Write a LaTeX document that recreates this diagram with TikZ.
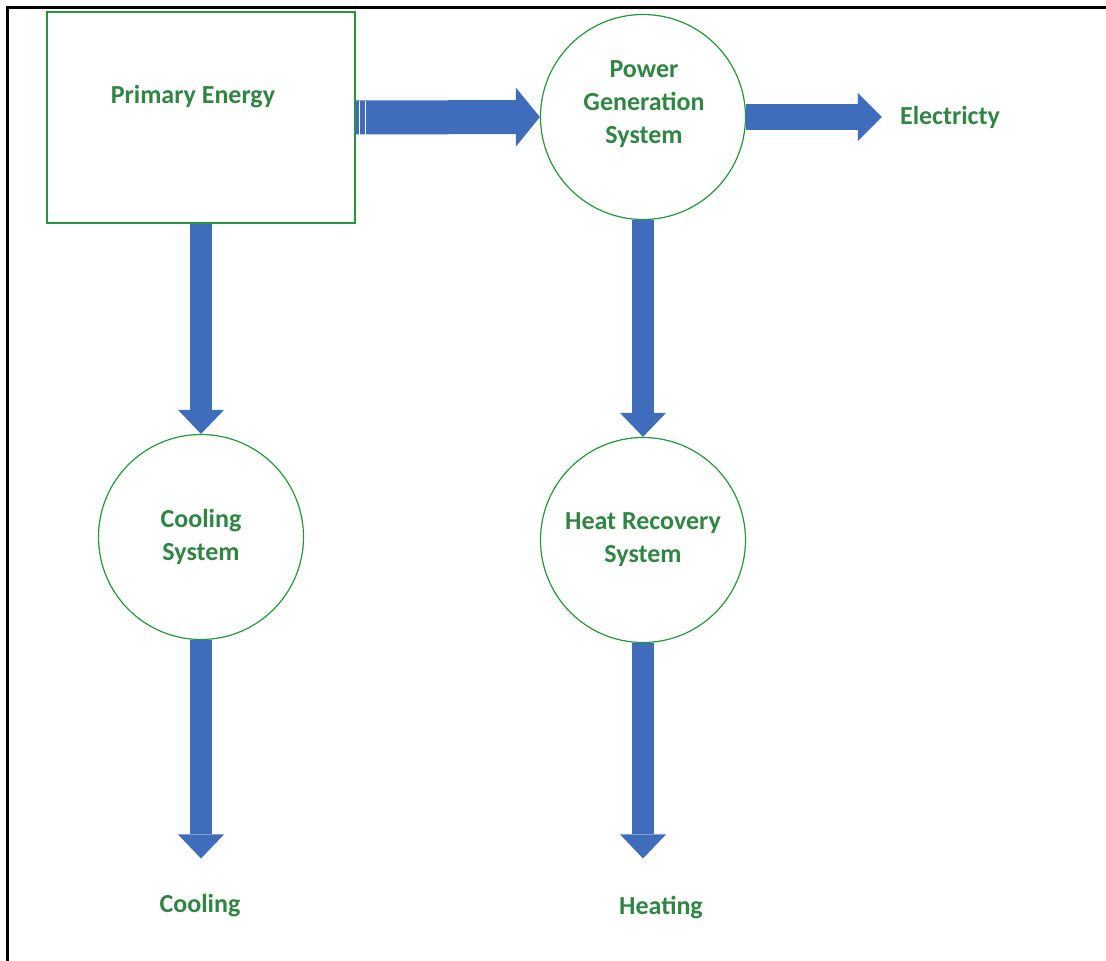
\documentclass[tikz,border=0pt]{standalone}
\usepackage{fontspec}
\setmainfont{Carlito}
\usetikzlibrary{arrows.meta, positioning, calc}
\definecolor{flowblue}{RGB}{64, 108, 188}
\definecolor{labelgreen}{RGB}{49, 133, 68}
\definecolor{edgegreen}{RGB}{38, 150, 60}
\tikzset{
	unit/.style={draw=edgegreen, line width=1.2pt, fill=white},
	box/.style={unit, rectangle, minimum width=308pt, minimum height=211pt},
	sys/.style={unit, circle, minimum size=205pt, inner sep=0pt, align=center,
		text=labelgreen, font=\bfseries\fontsize{26}{33}\selectfont},
	txt/.style={text=labelgreen, inner sep=0pt, align=center,
		font=\bfseries\fontsize{26}{33}\selectfont},
	flow/.style 2 args={draw=flowblue, line width=#1,
		-{Triangle[length=24pt, width=#2, line width=0pt]}}
}

\begin{document}
\begin{tikzpicture}[x=1pt, y=-1pt]
		\useasboundingbox (0,0) rectangle (1106,961);
		\draw[line width=3pt] (7.5,961) -- (7.5,7.5) -- (1106,7.5);
		% units
		\node[box] (primary) at (201,117.5) {};
		\node[txt] (primarytext) at (193,97) {Primary Energy};
		\node[sys] (powergen) at (643,117) {};
		\node[txt] (powertext) at (644,104.5) {Power\\Generation\\System};
		\node[sys] (cooling) at (201,537) {Cooling\\System};
		\node[sys] (heatrec) at (643,540) {Heat Recovery\\System};
		% outputs
		\node[txt] (elec) at (950,117.5) {Electricty};
		\node[txt] (coolout) at (200,906) {Cooling};
		\node[txt] (heatout) at (661,908) {Heating};
		% flows
		\draw[flow={34pt}{59pt}] (primary.east) -- (powergen.west);
		\draw[white, line width=1.5pt] ([xshift=4pt]primary.east) ++(0,-17) -- ++(0,34);
		\draw[white, line width=1.5pt] ([xshift=10pt]primary.east) ++(0,-17) -- ++(0,34);
		\draw[flow={26pt}{48pt}, shorten >=18pt] (powergen.east) -- (powergen.east -| elec.west);
		\draw[flow={22pt}{46pt}] (primary.south) -- (cooling.north);
		\draw[flow={22pt}{46pt}] (powergen.south) -- (heatrec.north);
		\draw[flow={22pt}{46pt}, shorten >=36pt] (cooling.south) -- (cooling.south |- coolout.north);
		\draw[flow={22pt}{46pt}, shorten >=38pt] (heatrec.south) -- (heatrec.south |- heatout.north);
\end{tikzpicture}
\end{document}
